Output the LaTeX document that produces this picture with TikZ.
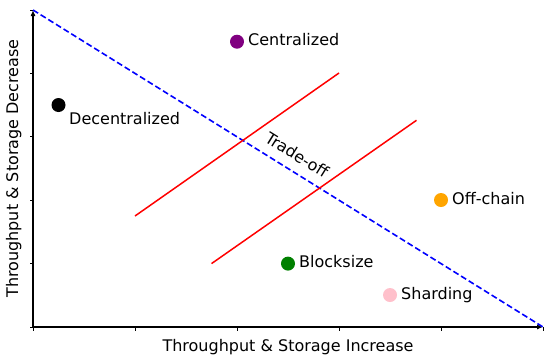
\documentclass[tikz,border=0pt]{standalone}
\usepackage{fontspec}
\setmainfont{DejaVu Sans}
\usetikzlibrary{arrows.meta}
\definecolor{mpurple}{RGB}{128,0,128}
\definecolor{morange}{RGB}{255,165,0}
\definecolor{mgreen}{RGB}{0,128,0}
\definecolor{mpink}{RGB}{255,192,203}
\begin{document}
\begin{tikzpicture}[x=1bp,y=-1bp,
  txt/.style={inner sep=0pt, font=\fontsize{16bp}{19bp}\selectfont},
  lbl/.style={txt, anchor=base west},
  dot/.style={circle, inner sep=0pt, minimum size=14bp},
  axis/.style={line width=1.1bp, -{Latex[length=6bp,width=5bp]}},
  tick/.style={line width=0.9bp},
  trade/.style={blue, line width=1.6bp, dash pattern=on 6bp off 3bp},
  front/.style={red, line width=1.5bp}]
\useasboundingbox (0,0) rectangle (550,359);
% axes
\coordinate (O) at (33,327);
\coordinate (X) at (543,327);
\coordinate (Y) at (33,10);
\draw[axis] (O) -- (X);
\draw[axis] (O) -- (Y);
\foreach \i/\xx in {0/33,1/135,2/237,3/339,4/441,5/543}{
  \coordinate (xt\i) at (\xx,327);
  \draw[tick] (xt\i) -- ++(0,3.5);
}
\foreach \i/\yy in {0/327,1/263.6,2/200.2,3/136.8,4/73.4,5/10}{
  \coordinate (yt\i) at (33,\yy);
  \draw[tick] (yt\i) -- ++(-3.5,0);
}
% axis labels
\node[txt, anchor=base] (xl) at (288,351) {Throughput \& Storage Increase};
\node[txt, anchor=base, rotate=90] (yl) at (18,168.5) {Throughput \& Storage Decrease};
% trade-off line
\coordinate (T1) at (33,10);
\coordinate (T2) at (543,327);
\draw[trade] (T1) -- (T2);
\node[txt, rotate=-31.9] (tl) at (297,155) {Trade-off};
% red lines
\coordinate (A1) at (135,216);
\coordinate (A2) at (339,73);
\coordinate (B1) at (211.5,263.6);
\coordinate (B2) at (416.5,120.3);
\draw[front] (A1) -- (A2);
\draw[front] (B1) -- (B2);
% points
\node[dot, fill=black] (dec) at (58.5,105) {};
\node[lbl] (decl) at (69,124) {Decentralized};
\node[dot, fill=mpurple] (cen) at (237,41.7) {};
\node[lbl] (cenl) at (248,45.7) {Centralized};
\node[dot, fill=morange] (off) at (441,200) {};
\node[lbl] (offl) at (452,204) {Off-chain};
\node[dot, fill=mgreen] (blk) at (288,263.6) {};
\node[lbl] (blkl) at (299,267.6) {Blocksize};
\node[dot, fill=mpink] (shd) at (390,295) {};
\node[lbl] (shdl) at (401,299) {Sharding};
\end{tikzpicture}
\end{document}
